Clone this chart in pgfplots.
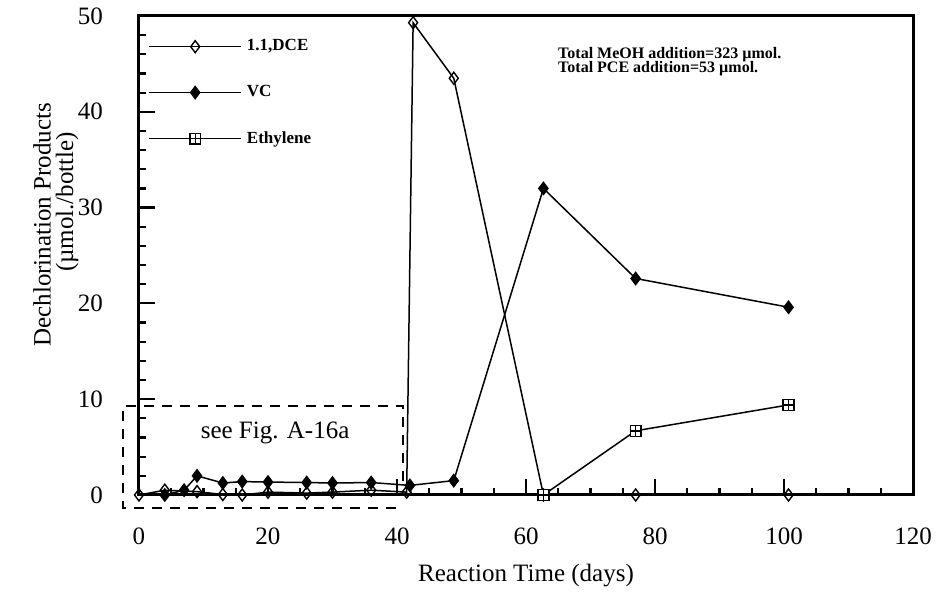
\documentclass[border=0pt]{standalone}
\usepackage{pgfplots}
\pgfplotsset{compat=1.18}
\usepackage{fontspec}
\setmainfont{Liberation Serif}

\pgfdeclareplotmark{boxplus}{%
  \pgfpathrectangle{\pgfqpoint{-\pgfplotmarksize}{-\pgfplotmarksize}}{\pgfqpoint{2\pgfplotmarksize}{2\pgfplotmarksize}}%
  \pgfusepathqfillstroke
  \pgfpathmoveto{\pgfqpoint{-\pgfplotmarksize}{0pt}}\pgfpathlineto{\pgfqpoint{\pgfplotmarksize}{0pt}}%
  \pgfpathmoveto{\pgfqpoint{0pt}{-\pgfplotmarksize}}\pgfpathlineto{\pgfqpoint{0pt}{\pgfplotmarksize}}%
  \pgfusepathqstroke}

\begin{document}
\begin{tikzpicture}
\begin{axis}[
  scale only axis, width=387pt, height=239.5pt,
  xmin=0, xmax=120, ymin=0, ymax=50,
  xtick={0,20,...,120}, ytick={0,10,...,50},
  minor x tick num=3, minor y tick num=4,
  tick align=inside, tick pos=left,
  major tick length=8pt, minor tick length=3.5pt,
  every tick/.style={black, line width=1.1pt},
  axis line style={line width=1.5pt},
  clip=false,
  /pgf/number format/assume math mode=true,
  tick label style={font=\fontsize{12.5}{15}\selectfont},
  xticklabel style={yshift=-13pt},
  yticklabel style={xshift=-14.5pt},
  xlabel={Reaction Time (days)},
  xlabel style={at={(rel axis cs:0.5,0)}, anchor=center, yshift=-40.5pt, font=\fontsize{12.5}{15}\selectfont},
  legend style={draw=none, fill=none, at={(0.0117,0.96)}, anchor=north west,
     inner sep=0pt, row sep=11.8pt, font=\bfseries\fontsize{8.5}{10}\selectfont,
     nodes={inner xsep=2.5pt, inner ysep=2pt}},
  legend cell align=left,
  legend image code/.code={\draw[mark repeat=2,mark phase=2,#1] plot coordinates {(0pt,0pt) (23pt,0pt) (46pt,0pt)};},
]
\path (axis cs:-21.55,-9.81) rectangle (axis cs:124.03,51.67);

\addplot[black, line width=0.75pt, mark=diamond, mark size=3pt, mark options={fill=white, line width=0.7pt}]
coordinates {(0,0) (4,0.5) (9,0.35) (13,0.05) (16,0) (20,0.3) (26,0.2) (30,0.3) (36,0.5) (41.5,0.3) (42.5,49.3) (48.8,43.5) (62.7,0) (77,0) (100.7,0)};
\addlegendentry{1.1,DCE}

\addplot[black, line width=0.75pt, mark=diamond*, mark size=3pt, mark options={fill=black}]
coordinates {(4,0) (7,0.5) (9,2.0) (13,1.25) (16,1.4) (20,1.35) (26,1.3) (30,1.25) (36,1.3) (42,1.0) (48.8,1.5) (62.7,32.0) (77,22.6) (100.7,19.6)};
\addlegendentry{VC}

\addplot[black, line width=0.75pt, mark=boxplus, mark size=2.7pt, mark options={fill=white, line width=0.7pt}]
coordinates {(62.7,0) (77,6.7) (100.7,9.4)};
\addlegendentry{Ethylene}

\draw[black, line width=1pt, dash pattern=on 5pt off 4pt]
  (axis cs:40.9,1.5) -- (axis cs:40.9,9.3) -- (axis cs:-2.5,9.3) -- (axis cs:-2.5,-1.36) -- (axis cs:40.5,-1.36);
\node[font=\fontsize{12.5}{15}\selectfont] at (axis cs:21.1,6.5) {see Fig. A-16a};

\node[anchor=west, font=\bfseries\fontsize{8}{9.6}\selectfont] at (axis cs:63.9,46.0) {Total MeOH addition=323 µmol.};
\node[anchor=west, font=\bfseries\fontsize{8}{9.6}\selectfont] at (axis cs:63.9,44.5) {Total PCE addition=53 µmol.};

\node[rotate=90, font=\fontsize{12.5}{15}\selectfont] at (axis cs:-15.04,28.2) {Dechlorination Products};
\node[rotate=90, font=\fontsize{12.5}{15}\selectfont] at (axis cs:-11.16,30.6) {(µmol./bottle)};
\end{axis}
\end{tikzpicture}
\end{document}
